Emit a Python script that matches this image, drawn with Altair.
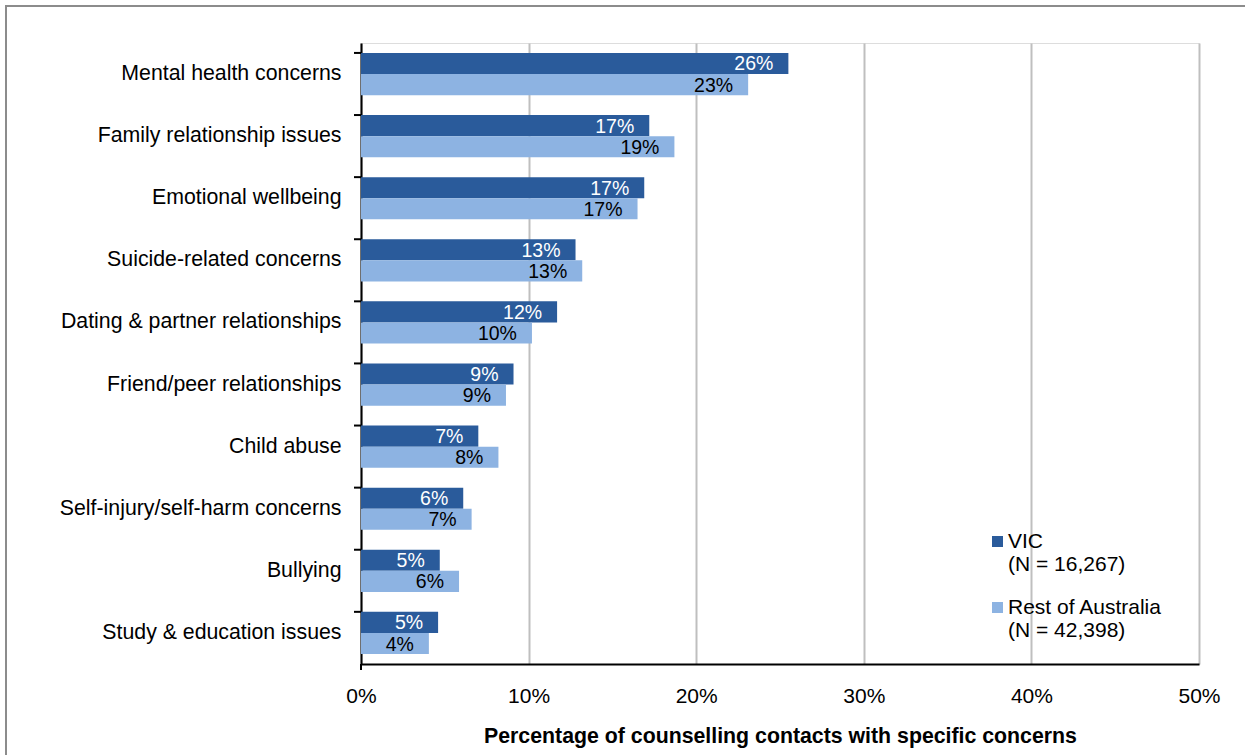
import altair as alt
import pandas as pd

categories = [
    "Mental health concerns",
    "Family relationship issues",
    "Emotional wellbeing",
    "Suicide-related concerns",
    "Dating & partner relationships",
    "Friend/peer relationships",
    "Child abuse",
    "Self-injury/self-harm concerns",
    "Bullying",
    "Study & education issues",
]
vic = [25.5, 17.2, 16.9, 12.8, 11.7, 9.1, 7.0, 6.1, 4.7, 4.6]
rest = [23.1, 18.7, 16.5, 13.2, 10.2, 8.65, 8.2, 6.6, 5.85, 4.05]
vic_labels = ["26%", "17%", "17%", "13%", "12%", "9%", "7%", "6%", "5%", "5%"]
rest_labels = ["23%", "19%", "17%", "13%", "10%", "9%", "8%", "7%", "6%", "4%"]
series = ["VIC|(N = 16,267)", "Rest of Australia|(N = 42,398)"]
colors = ["#2A5B9B", "#8DB3E2"]
label_colors = ["white", "black"]

rows = []
for i, c in enumerate(categories):
    rows.append({"cat": c, "series": series[0], "value": vic[i], "label": vic_labels[i], "lc": label_colors[0]})
    rows.append({"cat": c, "series": series[1], "value": rest[i], "label": rest_labels[i], "lc": label_colors[1]})
df = pd.DataFrame(rows)

W, H = 838, 621
FONT = "Liberation Sans"

yscale = alt.Scale(domain=categories, paddingInner=0.32, paddingOuter=0.16)
xscale = alt.Scale(domain=[0, 50], nice=False)
offscale = alt.Scale(domain=series, paddingInner=0, paddingOuter=0)

bars = alt.Chart(df).mark_bar().encode(
    y=alt.Y("cat:N", scale=yscale, sort=categories,
            axis=alt.Axis(title=None, ticks=False, domainColor="black", domainWidth=2,
                          labelFont=FONT, labelFontSize=21.3, labelColor="#000000",
                          labelPadding=20, labelLimit=400)),
    x=alt.X("value:Q", scale=xscale,
            axis=alt.Axis(title="Percentage of counselling contacts with specific concerns",
                          values=[0, 10, 20, 30, 40, 50], labelExpr="datum.value + '%'",
                          labelFlush=False,
                          ticks=False, grid=True, gridColor="#BFBFBF", gridWidth=2,
                          domainColor="black", domainWidth=2,
                          labelFont=FONT, labelFontSize=21, labelColor="#000000", labelPadding=21,
                          titleFont=FONT, titleFontSize=21.3, titleFontWeight="bold",
                          titleColor="#000000", titlePadding=19)),
    yOffset=alt.YOffset("series:N", sort=series, scale=offscale),
    color=alt.Color("series:N", sort=series, scale=alt.Scale(domain=series, range=colors),
                    legend=alt.Legend(title=None, orient="none", legendX=623, legendY=488,
                                      labelExpr="split(datum.label, '|')",
                                      labelFont=FONT, labelFontSize=21, labelColor="#000000",
                                      labelBaseline="middle", labelOffset=0, symbolOffset=3,
                                      symbolType="square", symbolSize=121, symbolStrokeWidth=0,
                                      rowPadding=21, padding=0, labelLimit=300)),
)

texts = alt.Chart(df).mark_text(align="right", baseline="middle", dx=-15, dy=1,
                                font=FONT, fontSize=19.5).encode(
    y=alt.Y("cat:N", scale=yscale, sort=categories),
    x=alt.X("value:Q", scale=xscale),
    yOffset=alt.YOffset("series:N", sort=series, scale=offscale),
    text="label:N",
    color=alt.Color("lc:N", scale=None, legend=None),
)

tick_df = pd.DataFrame({"cat": categories})
ticks = alt.Chart(tick_df).mark_rule(color="black", strokeWidth=2).encode(
    y=alt.Y("cat:N", scale=yscale, sort=categories, bandPosition=0),
    x=alt.value(-7), x2=alt.value(0),
)
bottom_tick = alt.Chart(pd.DataFrame({"a": [0]})).mark_rule(color="black", strokeWidth=2).encode(
    y=alt.value(H), y2=alt.value(H + 6), x=alt.value(0),
)
border = alt.Chart(pd.DataFrame({"a": [0]})).mark_rect(fill=None, stroke="#8C8C8C", strokeWidth=2).encode(
    x=alt.value(-355), x2=alt.value(W + 60), y=alt.value(-37), y2=alt.value(H + 120),
)

chart = alt.layer(border, bars, texts, ticks, bottom_tick).properties(
    width=W, height=H,
    autosize=alt.AutoSizeParams(type="none"),
    padding={"left": 361, "top": 43, "right": 46, "bottom": 91},
).configure_view(stroke=None).configure(background="white")

chart.save("out.html", embed_options={"renderer": "svg", "actions": False})
